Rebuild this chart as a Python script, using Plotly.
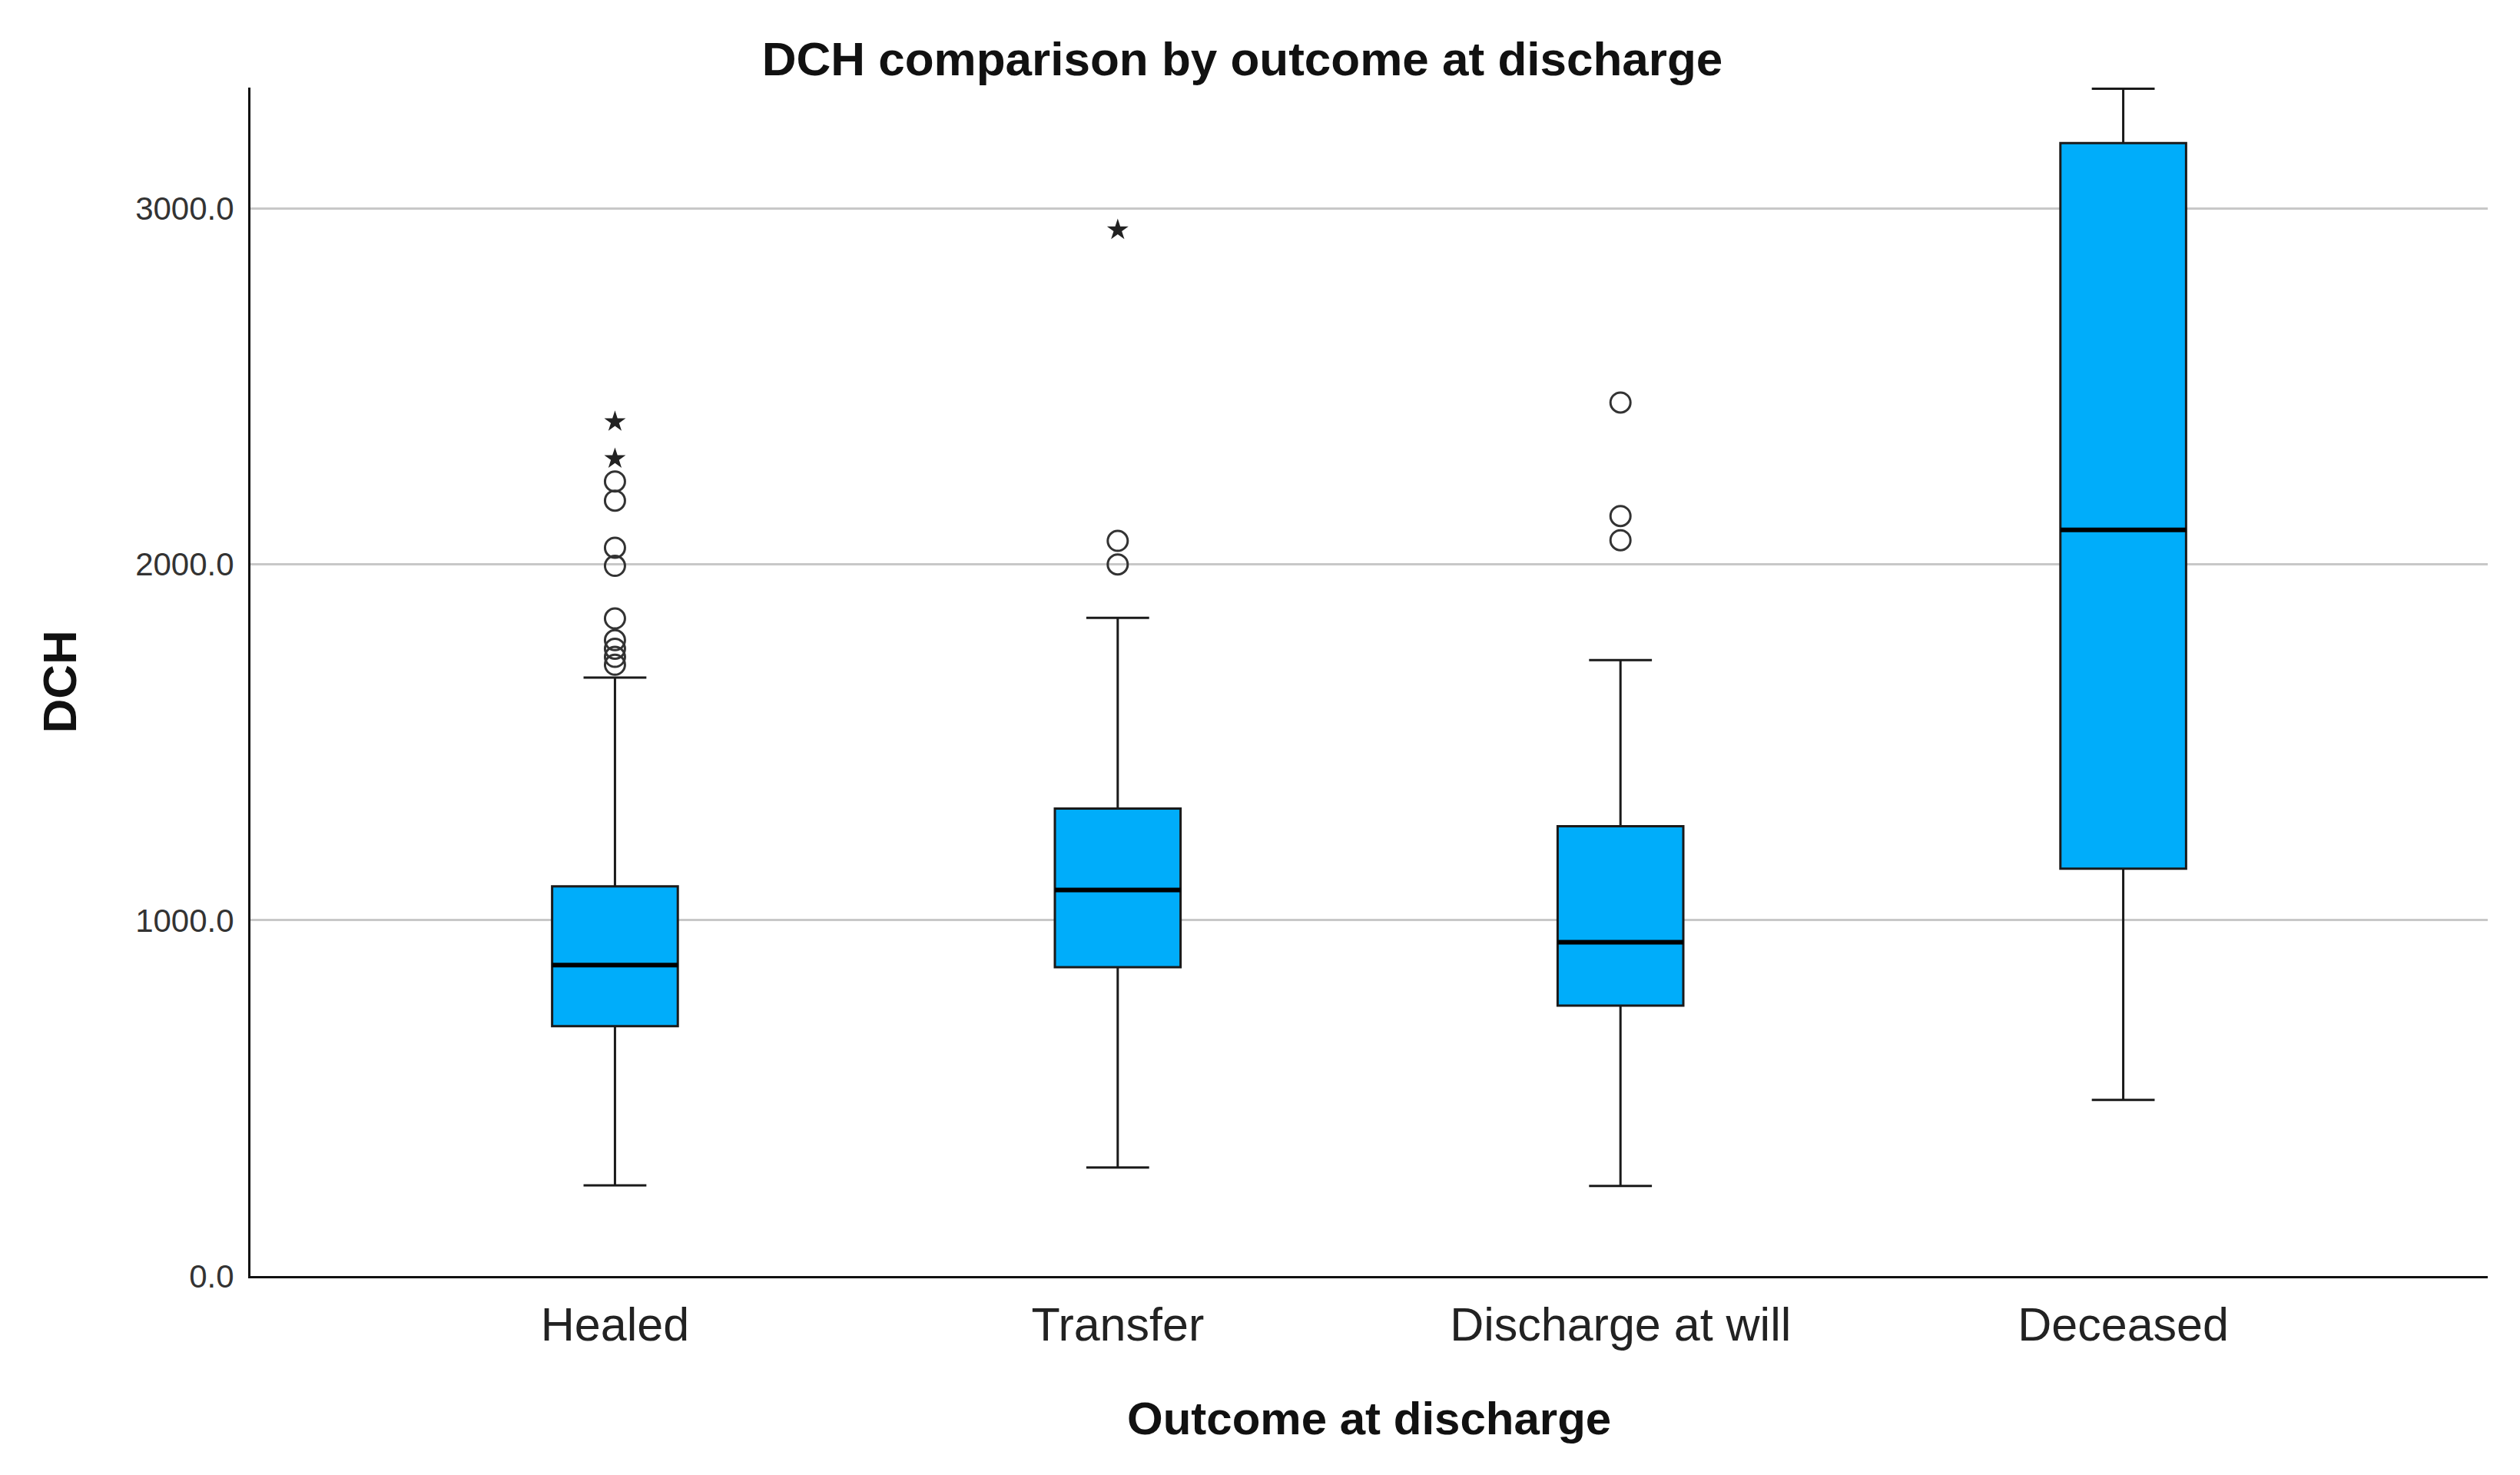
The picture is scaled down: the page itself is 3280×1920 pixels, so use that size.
import plotly.graph_objects as go

# ---- data ----
categories = ["Healed", "Transfer", "Discharge at will", "Deceased"]
q1 = [702, 868, 760, 1145]
median = [874, 1085, 938, 2097]
q3 = [1095, 1314, 1264, 3184]
lower_whisker = [255, 305, 253, 495]
upper_whisker = [1682, 1850, 1731, 3337]

# outliers (circles) and extreme values (stars)
healed_outliers = [1718, 1740, 1763, 1787, 1848, 1996, 2047, 2179, 2233]
transfer_outliers = [2000, 2066]
discharge_outliers = [2068, 2136, 2455]
healed_extremes = [2297, 2401]
transfer_extremes = [2940]

y_ticks = [0, 1000, 2000, 3000]

outlier_cat = (["Healed"] * len(healed_outliers)
               + ["Transfer"] * len(transfer_outliers)
               + ["Discharge at will"] * len(discharge_outliers))
outlier_val = healed_outliers + transfer_outliers + discharge_outliers
extreme_cat = ["Healed"] * len(healed_extremes) + ["Transfer"] * len(transfer_extremes)
extreme_val = healed_extremes + transfer_extremes

# ---- styling ----
FONT = "Liberation Sans, Arial, sans-serif"
BOX_FILL = "#00ADFA"
BOX_WIDTH = 0.25

fig = go.Figure()

fig.add_trace(go.Box(
    x=categories,
    q1=q1, median=median, q3=q3,
    lowerfence=lower_whisker, upperfence=upper_whisker,
    width=BOX_WIDTH, whiskerwidth=0.5,
    fillcolor=BOX_FILL,
    line=dict(color="#1a1a1a", width=3),
    boxpoints=False,
    showlegend=False,
    hoverinfo="skip",
))

fig.add_trace(go.Scatter(
    x=outlier_cat, y=outlier_val, mode="markers",
    marker=dict(symbol="circle-open", size=26, color="#333333",
                line=dict(width=3, color="#333333")),
    showlegend=False, hoverinfo="skip",
))

fig.add_trace(go.Scatter(
    x=extreme_cat, y=extreme_val, mode="markers",
    marker=dict(symbol="star", size=21, color="#222222"),
    showlegend=False, hoverinfo="skip",
))

# thicker median lines, derived from the data
for i, m in enumerate(median):
    fig.add_shape(type="line", xref="x", yref="y",
                  x0=i - BOX_WIDTH / 2, x1=i + BOX_WIDTH / 2, y0=m, y1=m,
                  line=dict(color="#000000", width=6), layer="above")

fig.update_layout(
    width=3280, height=1920,
    paper_bgcolor="white", plot_bgcolor="white",
    margin=dict(l=318, r=50, t=106, b=267),
    font=dict(family=FONT, color="#222222"),
    title=dict(text="<b>DCH comparison by outcome at discharge</b>",
               x=1609 / 3280, xref="container", xanchor="center",
               y=1 - 68 / 1920, yref="container", yanchor="middle",
               font=dict(size=62, color="#111111")),
)

fig.update_xaxes(
    type="category", categoryorder="array", categoryarray=categories,
    range=[-0.725, len(categories) - 1 + 0.725],
    showline=True, linecolor="#111111", linewidth=3, mirror=False,
    showgrid=False, zeroline=False, ticks="",
    tickfont=dict(size=61, color="#222222"),
    ticklabelstandoff=8,
)

fig.update_yaxes(
    range=[0, 3340],
    tickvals=y_ticks, ticktext=[f"{v:.1f}" for v in y_ticks],
    showline=True, linecolor="#111111", linewidth=3, mirror=False,
    showgrid=True, gridcolor="#c8c8c8", gridwidth=3,
    zeroline=False, ticks="",
    tickfont=dict(size=42, color="#333333"),
    ticklabelstandoff=10,
)

fig.add_annotation(text="<b>Outcome at discharge</b>", xref="paper", yref="paper",
                   x=0.5, y=0, yshift=-185, xanchor="center", yanchor="middle",
                   showarrow=False, font=dict(size=60, color="#111111"))
fig.add_annotation(text="<b>DCH</b>", xref="paper", yref="paper",
                   x=0, y=0.5, xshift=-249, xanchor="center", yanchor="middle",
                   textangle=-90, showarrow=False, font=dict(size=62, color="#111111"))

fig.write_html("out.html")
